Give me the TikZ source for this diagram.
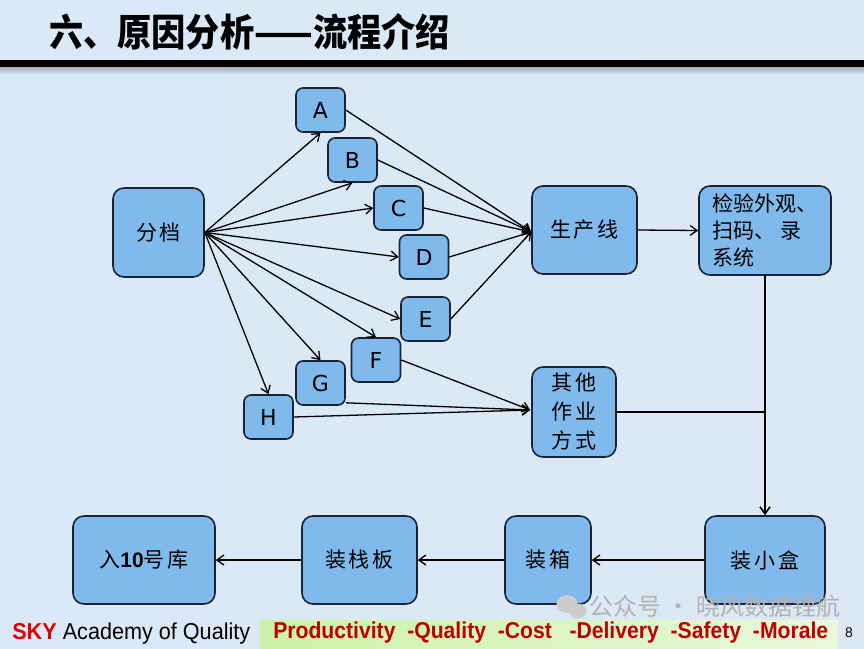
\documentclass[tikz,border=0pt]{standalone}
\usepackage{fontspec}
\setmainfont{Liberation Sans}
\newfontfamily\cjk{Noto Sans CJK SC}
\newfontfamily\cjks{Noto Sans CJK SC}[LetterSpace=14]
\newfontfamily\dejavu{DejaVu Sans}
\usetikzlibrary{arrows.meta,calc}
\definecolor{nodefill}{HTML}{80B9EC}
\definecolor{nodeline}{HTML}{1B2333}
\definecolor{bgl}{HTML}{DAE9F8}
\definecolor{bgm}{HTML}{C5DEF5}
\definecolor{bgr}{HTML}{DCE8F4}
\definecolor{darkred}{HTML}{C00000}
\definecolor{skyred}{HTML}{E00000}
\definecolor{greenl}{HTML}{CDF3A8}
\definecolor{greenr}{HTML}{E8F8DC}
\begin{document}
\begin{tikzpicture}[x=1pt,y=-1pt,
  box/.style={draw=nodeline, line width=1.6pt, fill=nodefill, rounded corners=11pt, align=center, inner sep=0pt, font=\cjks\fontsize{21}{27}\selectfont},
  sbox/.style={box, rounded corners=7pt, minimum width=49pt, minimum height=44pt, font=\dejavu\fontsize{22}{22}\selectfont},
  arr/.style={-{Straight Barb[length=7pt,width=10pt]}, line width=1.3pt},
]
\useasboundingbox (0,0) rectangle (864,648);
% background
\shade[left color=bgl, middle color=bgm, right color=bgr] (0,0) rectangle (864,648);
\shade[top color=gray!70, bottom color=bgm] (0,66) rectangle (864,73);
\fill[black] (0,60) rectangle (864,67);
% title
\node[anchor=west, font=\cjk\bfseries\fontsize{38}{38}\selectfont, xscale=0.9] (title) at (46,32) {六、原因分析——流程介绍};

% nodes
\node[box, minimum width=91pt, minimum height=89pt] (fd) at (158.5,232.5) {分档};
\node[sbox] (A) at (320.5,110) {A};
\node[sbox] (B) at (352.5,160) {B};
\node[sbox] (C) at (398.5,208) {C};
\node[sbox] (D) at (424,257) {D};
\node[sbox] (E) at (425.5,319) {E};
\node[sbox] (F) at (376,360) {F};
\node[sbox] (G) at (320.5,383) {G};
\node[sbox] (H) at (268.5,417) {H};
\node[box, minimum width=105pt, minimum height=88pt] (scx) at (584.5,230) {生产线};
\node[box, minimum width=132pt, minimum height=89pt, align=left, font=\cjk\fontsize{21}{27}\selectfont] (jy) at (765,230.5) {检验外观、\\扫码、\ 录\\系统};
\node[box, minimum width=84pt, minimum height=90pt, font=\cjks\fontsize{21}{29}\selectfont] (qt) at (574,412) {其他\\作业\\方式};
\node[box, minimum width=120pt, minimum height=88pt] (xh) at (765,560) {装小盒};
\node[box, minimum width=86pt, minimum height=88pt] (zx) at (548,560) {装箱};
\node[box, minimum width=115pt, minimum height=88pt] (zz) at (359.5,560) {装栈板};
\node[box, minimum width=142pt, minimum height=88pt] (rk) at (144,560) {入{\bfseries\fontspec{Liberation Sans}10}号库};

% arrows from 分档
\draw[arr] (fd.east) -- (A.south);
\draw[arr] (fd.east) -- (B.south);
\draw[arr] (fd.east) -- (C.west);
\draw[arr] (fd.east) -- (D.west);
\draw[arr] (fd.east) -- (E.west);
\draw[arr] (fd.east) -- (F.north);
\draw[arr] (fd.east) -- (G.north);
\draw[arr] (fd.east) -- (H.north);
% to 生产线
\coordinate (pin) at ($(scx.west)+(0,2)$);
\draw[arr] (A.east) -- (pin);
\draw[arr] (B.east) -- (pin);
\draw[arr] (C.east) -- (pin);
\draw[arr] (D.east) -- (pin);
\draw[arr] (E.east) -- (pin);
% to 其他作业方式
\coordinate (qin) at ($(qt.west)+(-1,-2)$);
\coordinate (gout) at ($(G.south east)+(0,-3)$);
\draw[arr] (F.east) -- (qin);
\draw[arr] (gout) -- (qin);
\draw[arr] (H.east) -- (qin);
% main flow
\draw[arr] (scx.east) -- (jy.west);
\draw[arr, line width=1.6pt] (jy.south) -- (xh.north);
\draw[line width=2.8pt] (qt.east) -- (qt.east -| jy.south);
\draw[arr] (xh.west) -- (zx.east);
\draw[arr] (zx.west) -- (zz.east);
\draw[arr] (zz.west) -- (rk.east);

% watermark
\fill[gray!40] (567,604) ellipse (10.5 and 9);
\fill[gray!40] (578,611) ellipse (8.5 and 7.5);
\node[anchor=west, text=gray!60, font=\cjk\fontsize{24}{24}\selectfont] (wm) at (586,606) {公众号 · 晓风数据锂航};

% footer
\shade[left color=greenl, right color=greenr] (260,620) rectangle (838,648);
\node[anchor=west, font=\fontsize{23}{23}\selectfont, xscale=0.94] (sky) at (9,634) {\textcolor{skyred}{\bfseries SKY} Academy of Quality};
\node[anchor=west, text=darkred, font=\bfseries\fontsize{23}{23}\selectfont, xscale=0.92] (pq) at (270,633) {Productivity\ \ -Quality\ \ -Cost\ \ \ -Delivery\ \ -Safety\ \ -Morale};
\node[font=\fontsize{14}{14}\selectfont] (pg) at (849,633) {8};
\end{tikzpicture}
\end{document}
